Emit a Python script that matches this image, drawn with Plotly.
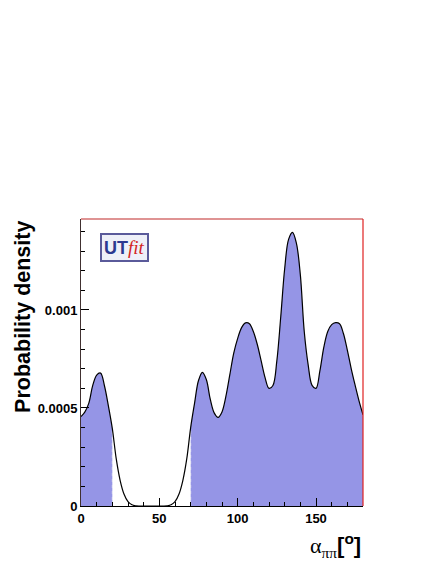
import plotly.graph_objects as go

# alpha (degrees) and probability density
alpha = [0, 2.5, 5, 7.5, 10, 12.5, 15, 17.5, 20, 22.5, 25, 27.5, 30, 32.5, 35, 37.5,
         40, 42.5, 45, 47.5, 50, 52.5, 55, 57.5, 60, 62.5, 65, 67.5, 70, 72.5, 75, 77.5,
         80, 82.5, 85, 87.5, 90, 92.5, 95, 97.5, 100, 102.5, 105, 107.5, 110, 112.5, 115,
         117.5, 120, 122.5, 125, 127.5, 130, 132.5, 135, 137.5, 140, 142.5, 145, 147.5,
         150, 152.5, 155, 157.5, 160, 162.5, 165, 167.5, 170, 172.5, 175, 177.5, 180]
density = [0.000456, 0.000480, 0.000525, 0.000615, 0.000668, 0.000678, 0.000612, 0.000510,
           0.000395, 0.000240, 0.000130, 0.000060, 0.000022, 0.000006, 0.000001, 0.0,
           0.0, 0.0, 0.0, 0.0, 0.0, 0.0, 0.000001, 0.000006, 0.000022, 0.000060, 0.000130,
           0.000240, 0.000400, 0.000525, 0.000640, 0.000682, 0.000645, 0.000545, 0.000475,
           0.000452, 0.000480, 0.000560, 0.000670, 0.000780, 0.000855, 0.000910, 0.000934,
           0.000930, 0.000890, 0.000825, 0.000740, 0.000655, 0.000600, 0.000615, 0.000740,
           0.000965, 0.001210, 0.001360, 0.001396, 0.001340, 0.001180, 0.000890, 0.000720,
           0.000615, 0.000600, 0.000690, 0.000810, 0.000890, 0.000925, 0.000935, 0.000930,
           0.000880, 0.000795, 0.000700, 0.000615, 0.000535, 0.000465]

# 68% probability regions (shaded)
low_cut = 20
high_cut = 70

ytick_vals = [0, 0.0005, 0.001]
ytick_text = ["0", "0.0005", "0.001"]
xtick_vals = [0, 50, 100, 150]

FILL = "rgb(149,149,230)"
FONT = "Liberation Sans"

fig = go.Figure()

for sel in ([i for i, a in enumerate(alpha) if a <= low_cut],
            [i for i, a in enumerate(alpha) if a >= high_cut]):
    fig.add_trace(go.Scatter(
        x=[alpha[i] for i in sel], y=[density[i] for i in sel],
        mode="lines", line=dict(width=0, shape="spline"),
        fill="tozeroy", fillcolor=FILL, hoverinfo="skip",
    ))

# dotted edges of the shaded regions
for cut in (low_cut, high_cut):
    yc = density[alpha.index(cut)]
    fig.add_trace(go.Scatter(
        x=[cut, cut], y=[0, yc], mode="lines",
        line=dict(color="rgba(235,235,245,0.9)", width=1, dash="dot"),
        hoverinfo="skip",
    ))

fig.add_trace(go.Scatter(
    x=alpha, y=density, mode="lines",
    line=dict(color="black", width=1.2, shape="spline"),
))

# page body has an 8px margin, so the figure is 8px smaller than the window
fig.update_layout(
    width=428, height=556,
    margin=dict(l=73, r=73, t=211, b=58, autoexpand=False),
    paper_bgcolor="white", plot_bgcolor="white",
    showlegend=False,
    font=dict(family=FONT, color="black"),
    xaxis=dict(
        range=[0, 180], showgrid=False, zeroline=False,
        showline=True, linecolor="black", linewidth=1,
        tickvals=xtick_vals, ticks="inside", ticklen=8, tickcolor="black",
        tickfont=dict(size=13, weight="bold", family=FONT),
        minor=dict(ticks="inside", dtick=10, ticklen=4, tickcolor="black"),
    ),
    yaxis=dict(
        range=[0, 0.001464], showgrid=False, zeroline=False,
        showline=True, linecolor="#403030", linewidth=1,
        tickvals=ytick_vals, ticktext=ytick_text,
        ticks="inside", ticklen=8, tickcolor="black",
        tickfont=dict(size=13, weight="bold", family=FONT),
        minor=dict(ticks="inside", dtick=0.0001, ticklen=4, tickcolor="black"),
    ),
    shapes=[
        dict(type="line", xref="paper", yref="paper", x0=0, x1=1, y0=1, y1=1,
             line=dict(color="#c02828", width=1.2)),
        dict(type="line", xref="paper", yref="paper", x0=1, x1=1, y0=0, y1=1,
             line=dict(color="#e02020", width=1.2)),
    ],
    annotations=[
        dict(text="<b>Probability density</b>", xref="paper", yref="paper",
             x=-0.208, y=0.66, xanchor="center", yanchor="middle", textangle=-90,
             showarrow=False, font=dict(size=21.5, family=FONT)),
        dict(text="<span style='font-family:Liberation Serif'>α</span>"
                  "<sub><span style='font-family:Liberation Serif'>ππ</span></sub>"
                  "<b>[<sup>o</sup>]</b>",
             xref="paper", yref="paper", x=1.0, y=-0.075,
             xanchor="right", yanchor="top", showarrow=False,
             font=dict(size=22, family=FONT)),
        dict(text="<span style='color:#2b3990;font-weight:bold;font-size:18px'>UT</span>"
                  "<span style='color:#d42424;font-family:Liberation Serif;"
                  "font-style:italic;font-size:19px'>fit</span>",
             xref="paper", yref="paper", x=0.068, y=0.952,
             xanchor="left", yanchor="top", showarrow=False,
             bgcolor="#eef0f8", bordercolor="#5a5a9a", borderwidth=2, borderpad=2,
             font=dict(family=FONT)),
    ],
)

fig.write_html("out.html")
